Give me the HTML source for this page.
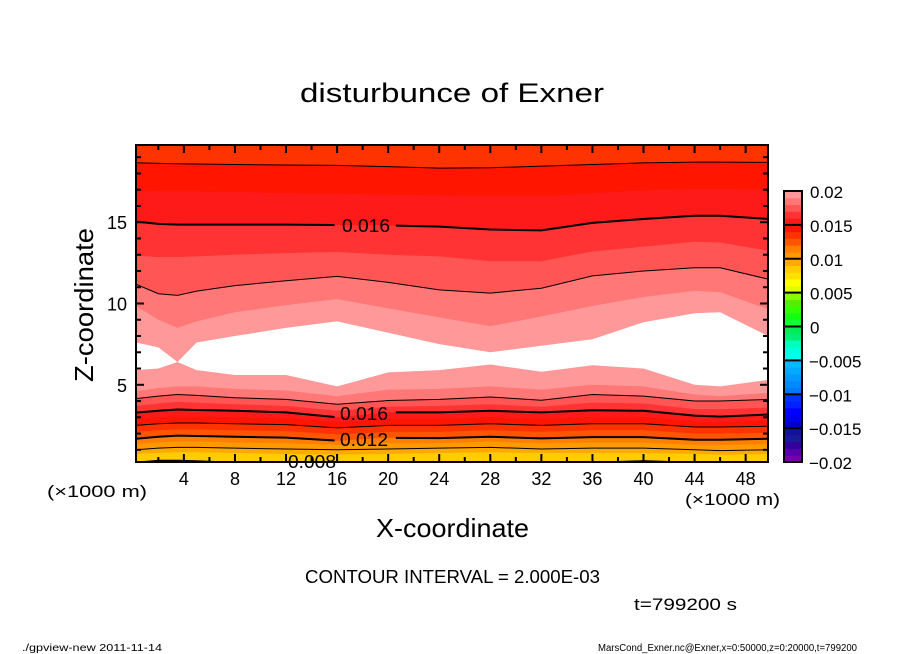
<!DOCTYPE html>
<html><head><meta charset="utf-8"><style>
html,body{margin:0;padding:0;background:#fff;}
svg{display:block;font-family:"Liberation Sans",sans-serif;}
</style></head><body>
<svg id="chart" width="904" height="654" viewBox="0 0 904 654" xmlns="http://www.w3.org/2000/svg">
<defs><clipPath id="plotclip"><rect x="136" y="145" width="632" height="317"/></clipPath></defs>
<text x="300" y="102" font-size="27" textLength="304" lengthAdjust="spacingAndGlyphs">disturbunce of Exner</text>
<g id="plot" clip-path="url(#plotclip)"></g>
<g id="lines" clip-path="url(#plotclip)"></g>
<g id="axes"></g>
<g id="cbar"></g>
<text transform="translate(93,382) rotate(-90)" font-size="26" textLength="154" lengthAdjust="spacingAndGlyphs">Z-coordinate</text>
<text x="376" y="537" font-size="26" textLength="153" lengthAdjust="spacingAndGlyphs">X-coordinate</text>
<text x="47" y="497" font-size="17" textLength="100" lengthAdjust="spacingAndGlyphs">(×1000 m)</text>
<text x="685" y="505" font-size="17" textLength="95" lengthAdjust="spacingAndGlyphs">(×1000 m)</text>
<text x="305" y="583" font-size="18" textLength="295" lengthAdjust="spacingAndGlyphs">CONTOUR INTERVAL = 2.000E-03</text>
<text x="634" y="610" font-size="17" textLength="103" lengthAdjust="spacingAndGlyphs">t=799200 s</text>
<text x="22" y="651" font-size="10" textLength="140" lengthAdjust="spacingAndGlyphs">./gpview-new  2011-11-14</text>
<text x="598" y="651" font-size="10" textLength="259" lengthAdjust="spacingAndGlyphs">MarsCond_Exner.nc@Exner,x=0:50000,z=0:20000,t=799200</text>
</svg>
<script>
const xs = [0.25, 2, 3.5, 5, 8, 12, 16, 20, 24, 28, 32, 36, 40, 44, 46, 49.75];
const lowerLevels = [0.008,0.009,0.010,0.011,0.012,0.013,0.014,0.015,0.016,0.017,0.018,0.019,0.020];
const l008 = [0.2,0.33,0.33,0.3,0.2,0.2,0.2,0.2,0.2,0.2,0.2,0.2,0.3,0.2,0.2,0.2];
const l009 = [0.75,0.8,0.85,0.85,0.8,0.75,0.7,0.75,0.8,0.85,0.8,0.8,0.8,0.75,0.7,0.75];
const l010 = [1.0,1.1,1.15,1.15,1.1,1.05,1.0,1.05,1.1,1.15,1.05,1.1,1.1,1.0,0.95,1.0];
const l011 = [1.35,1.45,1.5,1.5,1.45,1.4,1.3,1.4,1.4,1.5,1.4,1.45,1.45,1.3,1.3,1.35];
const l012 = [1.68,1.8,1.87,1.85,1.8,1.75,1.56,1.74,1.72,1.8,1.7,1.78,1.78,1.62,1.62,1.68];
const l013 = [2.1,2.2,2.25,2.25,2.2,2.15,1.95,2.1,2.1,2.2,2.1,2.2,2.2,2.0,2.0,2.05];
const l014 = [2.5,2.6,2.65,2.65,2.6,2.55,2.35,2.5,2.5,2.6,2.5,2.6,2.6,2.4,2.4,2.45];
const l015 = [2.9,3.0,3.05,3.05,3.0,2.95,2.7,2.9,2.9,3.0,2.9,3.0,3.0,2.75,2.7,2.8];
const l016 = [3.29,3.4,3.48,3.45,3.4,3.3,3.0,3.3,3.3,3.4,3.3,3.43,3.4,3.1,3.04,3.17];
const l017 = [3.7,3.85,3.95,3.9,3.8,3.7,3.4,3.65,3.7,3.8,3.65,3.9,3.85,3.5,3.5,3.6];
const l018 = [4.15,4.3,4.4,4.35,4.2,4.1,3.8,4.03,4.1,4.25,4.05,4.4,4.3,4.0,4.0,4.1];
const l019 = [4.6,4.8,4.9,4.9,4.75,4.65,4.3,4.7,4.75,4.9,4.7,5.0,4.9,4.4,4.3,4.5];
const l020 = [5.9,6.0,6.4,5.9,5.6,5.6,4.9,5.76,5.9,6.25,5.8,6.2,6.0,5.0,4.9,5.3];
const upperLevels = [0.020,0.019,0.018,0.017,0.016,0.015,0.014];
const u020 = [7.6,7.3,6.4,7.6,8.0,8.5,8.9,8.2,7.5,7.0,7.4,7.8,8.85,9.4,9.46,8.0];
const u019 = [9.85,9.0,8.5,8.9,9.46,9.9,10.27,9.7,9.15,8.6,9.2,9.85,10.4,10.78,10.7,9.65];
const u018 = [11.19,10.6,10.5,10.76,11.1,11.4,11.67,11.3,10.84,10.64,10.94,11.7,12.0,12.2,12.2,11.5];
const u017 = [12.94,12.86,12.86,12.9,13.0,13.1,13.17,13.0,12.9,12.6,12.6,13.2,13.5,13.8,13.75,13.25];
const u016 = [15.04,14.9,14.85,14.85,14.85,14.85,14.83,14.8,14.73,14.55,14.5,14.96,15.2,15.4,15.4,15.2];
const u015 = [16.95,16.9,16.9,16.9,16.85,16.8,16.75,16.7,16.64,16.6,16.6,16.8,16.95,17.05,17.05,17.0];
const u014 = [18.66,18.62,18.6,18.58,18.55,18.52,18.5,18.42,18.33,18.35,18.45,18.55,18.65,18.7,18.7,18.68];
const xTicks = [4,8,12,16,20,24,28,32,36,40,44,48];
const zTicks = [5,10,15];
const cbarTicks = ["-0.02","-0.015","-0.01","-0.005","0","0.005","0.01","0.015","0.02"];

const NS = "http://www.w3.org/2000/svg";
const X = km => 136 + (km - 0.25) * 632 / 49.5;
const Z = z => 462 - (z - 0.25) * 317 / 19.5;
function colorFor(v){
  const k = Math.round(v*1000);
  const map = {7:"#ffe000",8:"#ffcc00",9:"#ffaa00",10:"#ff9900",11:"#ff7f00",12:"#ff5500",13:"#ff3300",14:"#ff1500",15:"#ff1a1a",16:"#ff3333",17:"#ff5555",18:"#ff7777",19:"#ff9999"};
  return map[k] || "#ffffff";
}
function mk(tag, attrs, parent){ const e=document.createElementNS(NS,tag); for(const k in attrs) e.setAttribute(k,attrs[k]); parent.appendChild(e); return e; }
const plot = document.getElementById("plot");
function abovePoly(arr){
  let d = "M" + X(xs[0]) + "," + Z(arr[0]);
  for(let i=1;i<xs.length;i++) d += " L" + X(xs[i]) + "," + Z(arr[i]);
  d += " L" + X(xs[xs.length-1]) + ",140 L" + X(xs[0]) + ",140 Z";
  return d;
}
let bg = mk("rect",{x:136,y:145,width:632,height:317,fill:colorFor(0.007)},plot);


const lowerArrs=[l008,l009,l010,l011,l012,l013,l014,l015,l016,l017,l018,l019,l020];
lowerArrs.forEach((arr,i)=>{
  const p = mk("path",{d:abovePoly(arr),fill:colorFor(lowerLevels[i])},plot);
  
  
});
const upperArrs=[u020,u019,u018,u017,u016,u015,u014];
upperArrs.forEach((arr,i)=>{
  const p = mk("path",{d:abovePoly(arr),fill:colorFor(upperLevels[i]-0.001)},plot);
  
  
});
const lines = document.getElementById("lines");
function valAt(arr,km){ for(let i=0;i<xs.length-1;i++){ if(km<=xs[i+1]){ const t=(km-xs[i])/(xs[i+1]-xs[i]); return arr[i]+t*(arr[i+1]-arr[i]); } } return arr[arr.length-1]; }
function drawLine(arr,w,name,gap){
  const segs=[];
  if(gap){ segs.push([0.25,gap[0]]); segs.push([gap[1],49.75]); } else segs.push([0.25,49.75]);
  segs.forEach(s=>{
    let pts=[[s[0],valAt(arr,s[0])]];
    xs.forEach((x,i)=>{ if(x>s[0]&&x<s[1]) pts.push([x,arr[i]]); });
    pts.push([s[1],valAt(arr,s[1])]);
    const p = mk("polyline",{points:pts.map(p=>X(p[0])+","+Z(p[1])).join(" "),fill:"none",stroke:"#000","stroke-width":w},lines);
    
    
  });
}
drawLine(l008,2,'contour-0.008-lower',[12,16.3]);
drawLine(l010,1,'contour-0.010-lower');
drawLine(l012,2,'contour-0.012-lower',[15.8,20.6]);
drawLine(l014,1,'contour-0.014-lower');
drawLine(l016,2,'contour-0.016-lower',[15.8,20.6]);
drawLine(l018,1,'contour-0.018-lower');
drawLine(u018,1,'contour-0.018-upper');
drawLine(u016,2,'contour-0.016-upper',[15.8,20.6]);
drawLine(u014,1,'contour-0.014-upper');
const svg=document.getElementById("chart");
[["0.016",342,232,"contour-label-upper-0.016"],["0.016",340,420,"contour-label-lower-0.016"],["0.012",340,446,"contour-label-0.012"],["0.008",288,468,"contour-label-0.008"]].forEach(l=>{
  const t=mk("text",{x:l[1],y:l[2],"font-size":18,textLength:48,lengthAdjust:"spacingAndGlyphs"},svg);
  t.textContent=l[0];
  
  
});
const axes=document.getElementById("axes");
const frame=mk("rect",{x:136,y:145,width:632,height:317,fill:"none",stroke:"#000","stroke-width":2},axes);


for(let k=2;k<=48;k+=2){
  const len = (k%4===0)?8:5, x=X(k);
  const a=mk("line",{x1:x,y1:462,x2:x,y2:462-len,stroke:"#000","stroke-width":2},axes);
  
  
  const b=mk("line",{x1:x,y1:145,x2:x,y2:145+len,stroke:"#000","stroke-width":2},axes);
  
  
}
for(let z=1;z<=19;z++){
  const len=(z%5===0)?8:5, y=Z(z);
  const a=mk("line",{x1:136,y1:y,x2:136+len,y2:y,stroke:"#000","stroke-width":2},axes);
  
  
  const b=mk("line",{x1:768,y1:y,x2:768-len,y2:y,stroke:"#000","stroke-width":2},axes);
  
  
}
xTicks.forEach(k=>{
  const t=mk("text",{x:X(k),y:485,"font-size":18,"text-anchor":"middle"},axes);
  t.textContent=String(k);
  
  
});
zTicks.forEach(z=>{
  const t=mk("text",{x:127,y:Z(z)+7,"font-size":18,"text-anchor":"end"},axes);
  t.textContent=String(z);
  
  
});
const cbar=document.getElementById("cbar");
const cbColors=["#7700aa","#5500aa","#330099","#1a1a99","#111199",
"#0000cc","#0000ee","#0000ff","#0022ff","#0033ff",
"#0077ff","#0088ff","#0099ff","#00aaff","#00bbff",
"#00ffee","#00ffdd","#00ffbb","#00ee77","#00ee55",
"#11ff33","#11ff11","#33ff00","#55ee00","#88ff00",
"#ddff00","#ffff00","#ffe000","#ffcc00","#ffaa00",
"#ff9900","#ff7f00","#ff5500","#ff3300","#ff1500",
"#ff1a1a","#ff3333","#ff5555","#ff7777","#ff9999"];
const cTop=191,cBot=462,cH=(cBot-cTop)/40;
cbColors.forEach((c,i)=>{
  const r=mk("rect",{x:784,y:cBot-(i+1)*cH,width:18,height:cH+0.5,fill:c},cbar);
  
  
});
for(let s=1;s<8;s++){
  const y=cBot-s*5*cH;
  const l=mk("line",{x1:784,y1:y,x2:802,y2:y,stroke:"#000","stroke-width":2},cbar);
  
  
}
const cb=mk("rect",{x:784,y:cTop,width:18,height:cBot-cTop,fill:"none",stroke:"#000","stroke-width":2},cbar);


cbarTicks.forEach((lab,i)=>{
  const t=mk("text",{x:lab.startsWith("-")?809:810,y:cBot-i*5*cH+7,"font-size":17},cbar);
  t.textContent=lab.replace("-","\u2212");
  
  
});
</script>
</body></html>
